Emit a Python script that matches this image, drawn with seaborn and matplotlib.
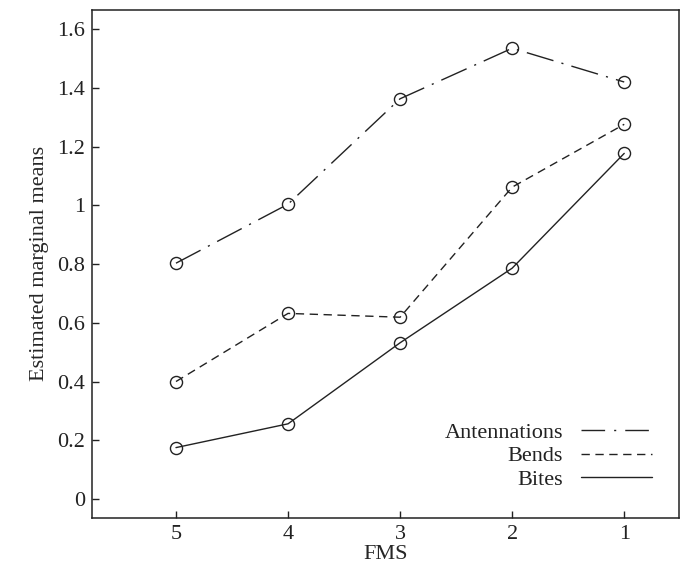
import numpy as np
import pandas as pd
import matplotlib
matplotlib.use('Agg')
import matplotlib.pyplot as plt
import matplotlib.ticker as mtick
from matplotlib.lines import Line2D
import seaborn as sns

# ── Data ─────────────────────────────────────────────────────
fms_levels   = ['5', '4', '3', '2', '1']
antennations = [0.803, 1.004, 1.363, 1.535, 1.420]
bends        = [0.400, 0.632, 0.619, 1.062, 1.276]
bites        = [0.175, 0.256, 0.532, 0.786, 1.177]
behaviours   = ['Antennations', 'Bends', 'Bites']
y_ticks      = [0, 0.2, 0.4, 0.6, 0.8, 1.0, 1.2, 1.4, 1.6]

df = pd.DataFrame({
    'FMS'      : fms_levels * 3,
    'mean'     : antennations + bends + bites,
    'behaviour': np.repeat(behaviours, len(fms_levels)),
})

FS = 16
INK = '#222222'

sns.set_theme(style='ticks')
plt.rcParams.update({
    'font.family'      : ['Liberation Serif', 'DejaVu Serif'],
    'font.size'        : FS,
    'axes.linewidth'   : 1.1,
    'xtick.direction'  : 'in',
    'ytick.direction'  : 'in',
    'xtick.major.size' : 5,
    'ytick.major.size' : 5,
    'xtick.major.width': 1.0,
    'ytick.major.width': 1.0,
    'xtick.labelsize'  : FS,
    'ytick.labelsize'  : FS,
    'text.color'       : INK,
    'xtick.color'      : INK,
    'ytick.color'      : INK,
    'axes.edgecolor'   : INK,
})

dash_styles = {
    'Antennations': (20, 6, 1.5, 6),
    'Bends'       : (6, 4),
    'Bites'       : '',
}
legend_dashes = {
    'Antennations': (0, (17, 6.5, 1.5, 6.5)),
    'Bends'       : (0, (6, 4)),
    'Bites'       : '-',
}

fig = plt.figure(figsize=(6.86, 5.75), dpi=100)
ax = fig.add_axes([0.134, 0.099, 0.856, 0.884])

sns.lineplot(data=df, x='FMS', y='mean', style='behaviour',
             hue='behaviour', palette=[INK] * 3,
             dashes=dash_styles, markers={b: 'o' for b in behaviours},
             markersize=8.7, linewidth=1.0, sort=False, legend=False, ax=ax)

for line in ax.lines:
    line.set_markerfacecolor('none')
    line.set_markeredgecolor(INK)
    line.set_markeredgewidth(1.0)

ax.set_xlim(-0.75, 4.49)
ax.set_ylim(-0.065, 1.666)
ax.set_yticks(y_ticks)
ax.yaxis.set_major_formatter(mtick.FuncFormatter(lambda v, _: f'{v:g}'))
ax.tick_params(top=False, right=False, pad=5)
ax.set_xlabel('FMS', fontsize=FS, labelpad=1)
ax.set_ylabel('Estimated marginal means', fontsize=FS, labelpad=6)

handles = [Line2D([], [], color=INK, linewidth=1.0, linestyle=legend_dashes[b])
           for b in behaviours]
ax.legend(handles, behaviours, markerfirst=False, frameon=False,
          loc='lower right', bbox_to_anchor=(652 / 686, 85 / 575),
          bbox_transform=fig.transFigure, borderpad=0, borderaxespad=0,
          handlelength=3.2, handletextpad=0.8, labelspacing=0.14,
          fontsize=FS)

plt.savefig('out.png', dpi=100)
